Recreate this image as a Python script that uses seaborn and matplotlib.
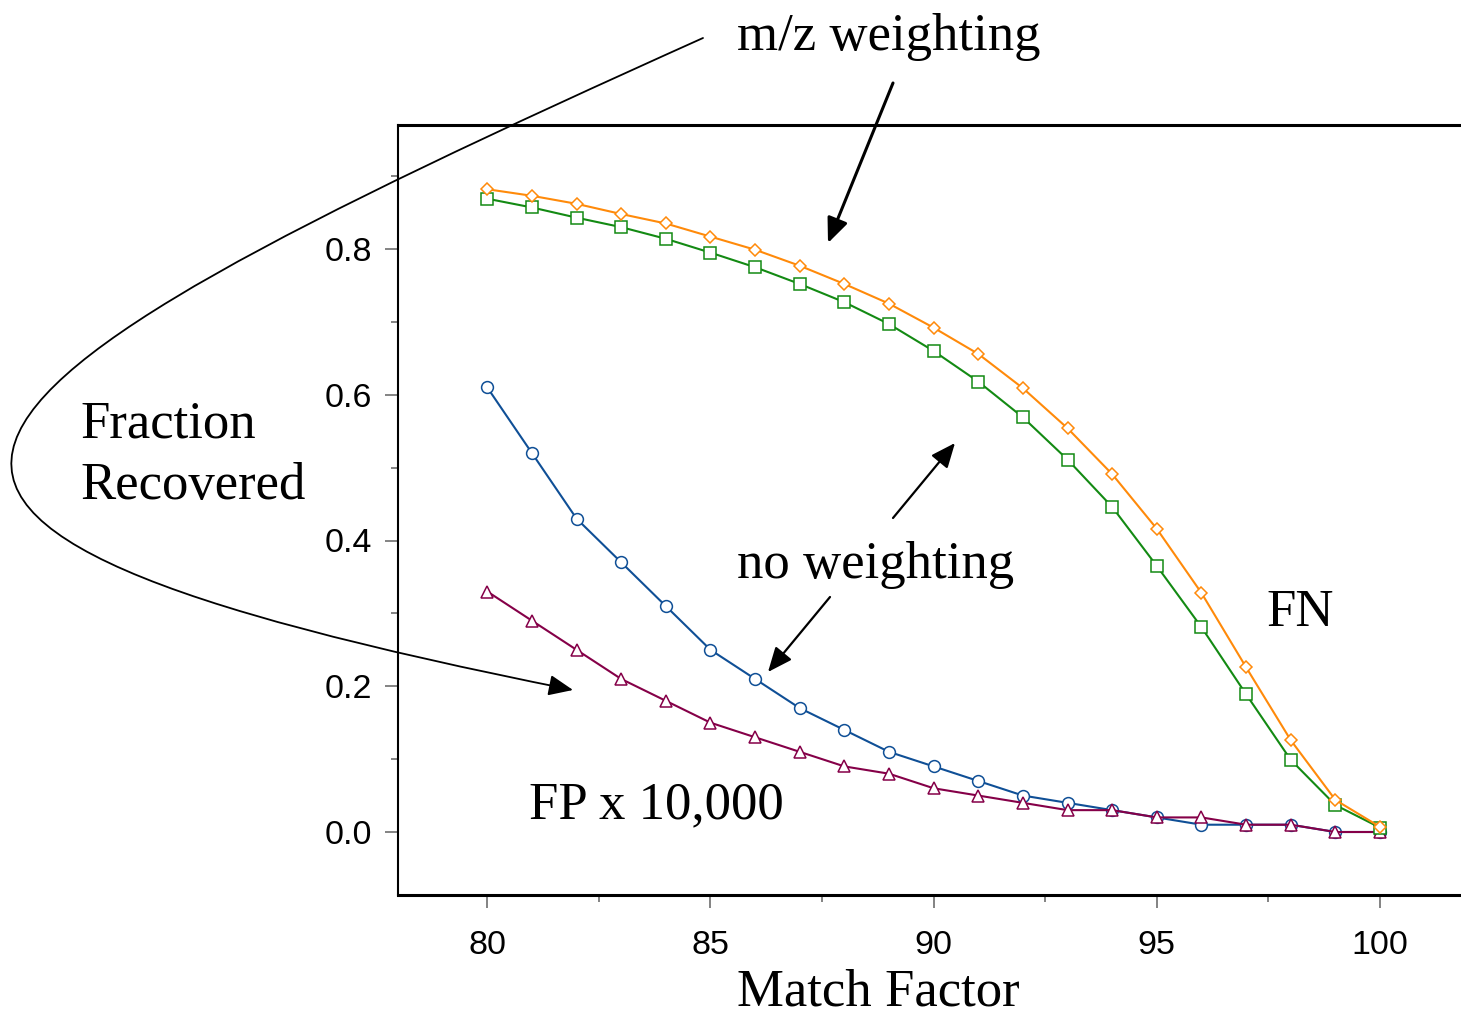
import matplotlib
matplotlib.use("Agg")
import matplotlib.pyplot as plt
import seaborn as sns
from matplotlib.path import Path
from matplotlib.patches import FancyArrowPatch
from matplotlib.ticker import MultipleLocator, FixedLocator

# ---------------- data ----------------
match_factor = list(range(80, 101))
fn_mz_weighting = [0.882, 0.873, 0.862, 0.848, 0.835, 0.817, 0.799, 0.777, 0.752, 0.725,
                   0.692, 0.656, 0.609, 0.554, 0.491, 0.416, 0.328, 0.226, 0.126, 0.044, 0.007]
fn_no_weighting = [0.869, 0.857, 0.843, 0.830, 0.814, 0.795, 0.775, 0.752, 0.727, 0.697,
                   0.660, 0.618, 0.569, 0.511, 0.446, 0.365, 0.281, 0.189, 0.099, 0.037, 0.006]
fp_no_weighting = [0.61, 0.52, 0.43, 0.37, 0.31, 0.25, 0.21, 0.17, 0.14, 0.11,
                   0.09, 0.07, 0.05, 0.04, 0.03, 0.02, 0.01, 0.01, 0.01, 0.0, 0.0]
fp_mz_weighting = [0.33, 0.29, 0.25, 0.21, 0.18, 0.15, 0.13, 0.11, 0.09, 0.08,
                   0.06, 0.05, 0.04, 0.03, 0.03, 0.02, 0.02, 0.01, 0.01, 0.0, 0.0]

x_major_ticks = [80, 85, 90, 95, 100]
y_major_ticks = [0.0, 0.2, 0.4, 0.6, 0.8]
x_tick_labels = ["80", "85", "90", "95", "100"]
y_tick_labels = ["0.0", "0.2", "0.4", "0.6", "0.8"]

# ---------------- style ----------------
sns.set_style("ticks")
plt.rcParams["font.family"] = ["Liberation Sans", "DejaVu Sans"]
plt.rcParams["text.color"] = "black"

W, H = 1461, 1016
fig = plt.figure(figsize=(W / 100, H / 100), dpi=100)
ax = fig.add_axes([398 / W, (H - 895) / H, (W - 398) / W, 770 / H])

series = [
    (fp_no_weighting, "#0F4F96", "o", 8.5),
    (fp_mz_weighting, "#850048", "^", 8.5),
    (fn_no_weighting, "#138A13", "s", 8.0),
    (fn_mz_weighting, "#FF8A0A", "D", 5.8),
]
for vals, col, mk, ms in series:
    sns.lineplot(x=match_factor, y=vals, ax=ax, color=col, marker=mk,
                 markersize=ms, markerfacecolor="white", markeredgecolor=col,
                 markeredgewidth=1.1, linewidth=1.5)

ax.set_xlim(78.0, 80 + (W - 487) / 44.65)
ax.set_ylim((832 - 895) / 728.75, (832 - 125) / 728.75)

ax.xaxis.set_major_locator(FixedLocator(x_major_ticks))
ax.set_xticklabels(x_tick_labels)
ax.xaxis.set_minor_locator(MultipleLocator(2.5))
ax.yaxis.set_major_locator(FixedLocator(y_major_ticks))
ax.set_yticklabels(y_tick_labels)
ax.yaxis.set_minor_locator(MultipleLocator(0.1))

ax.tick_params(axis="both", which="major", direction="out", length=9.5, width=1.2,
               color="#6e6e6e", labelsize=24.5, labelcolor="black")
ax.tick_params(axis="both", which="minor", direction="out", length=5, width=1.2,
               color="#6e6e6e")
ax.tick_params(axis="x", which="major", pad=16)
ax.tick_params(axis="y", which="major", pad=9)

ax.spines["right"].set_visible(False)
ax.spines["left"].set_linewidth(1.5)
ax.spines["top"].set_linewidth(2.2)
ax.spines["bottom"].set_linewidth(2.2)
for s in ax.spines.values():
    s.set_color("black")
ax.set_xlabel("")
ax.set_ylabel("")

serif = ["Liberation Serif", "DejaVu Serif"]
FS = 38


def fpx(x, y):
    return (x / W, (H - y) / H)


def ftext(x, y, s):
    fig.text(*fpx(x, y), s, family=serif, fontsize=FS, color="black",
             ha="left", va="baseline")


ftext(737, 50, "m/z weighting")
ftext(737, 578, "no weighting")
ftext(529, 818, "FP x 10,000")
ftext(1266, 626, "FN")
ftext(80, 437, "Fraction")
ftext(80, 499, "Recovered")
ftext(737, 1005, "Match Factor")


def arrow(x0, y0, x1, y1, lw):
    fig.add_artist(FancyArrowPatch(fpx(x0, y0), fpx(x1, y1), transform=fig.transFigure,
                                   arrowstyle="-|>,head_length=0.75,head_width=0.32",
                                   mutation_scale=20, color="black", lw=lw,
                                   shrinkA=0, shrinkB=0))


arrow(893, 83, 828, 243, 2.2)
arrow(893, 518, 955, 443, 1.6)
arrow(830, 597, 768, 672, 1.6)

P = [fpx(703, 38), fpx(-127, 411), fpx(-257, 524), fpx(573, 690)]
path = Path(P, [Path.MOVETO, Path.CURVE4, Path.CURVE4, Path.CURVE4])
fig.add_artist(FancyArrowPatch(path=path, transform=fig.transFigure,
                               arrowstyle="-|>,head_length=0.75,head_width=0.32",
                               mutation_scale=20, color="black", lw=1.3))

fig.savefig("out.png", dpi=100)
